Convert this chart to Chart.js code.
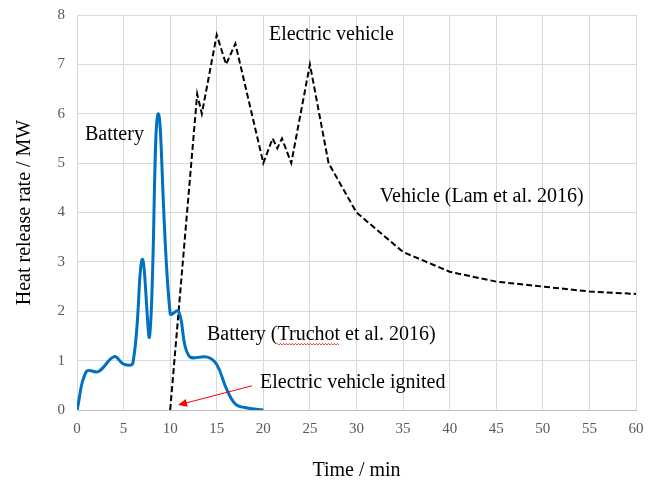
<!DOCTYPE html>
<html>
<head>
<meta charset="utf-8">
<script src="https://cdn.jsdelivr.net/npm/chart.js@4/dist/chart.umd.min.js"></script>
<style>
    html, body { margin: 0; padding: 0; background: #ffffff; }
    #wrap { width: 654px; height: 485px; position: relative; }
</style>
</head>
<body>
<div id="wrap"><canvas id="hrr-chart"></canvas></div>
<script>
// Battery (Truchot et al. 2016)
const batteryTime = [0, 1, 2.3, 4, 5, 6, 7, 7.8, 8.7, 10, 10.9, 12, 14, 15, 16, 17, 18, 20];
const batteryHrr = [0, 0.78, 0.78, 1.08, 0.93, 0.95, 3.05, 1.5, 6.0, 1.95, 2.0, 1.1, 1.07, 0.92, 0.45, 0.12, 0.05, 0];

// Vehicle (Lam et al. 2016)
const vehicleTime = [10, 12.9, 13.4, 15, 16, 17, 20, 21, 21.5, 22, 23, 25, 27, 30, 35, 40, 45, 50, 55, 60];
const vehicleHrr = [0, 6.4, 6.0, 7.6, 7.0, 7.42, 5.0, 5.5, 5.3, 5.5, 5.0, 7.0, 5.0, 4.0, 3.2, 2.8, 2.6, 2.5, 2.4, 2.35];

const xTicks = [0, 5, 10, 15, 20, 25, 30, 35, 40, 45, 50, 55, 60];
const yTicks = [0, 1, 2, 3, 4, 5, 6, 7, 8];

const toPoints = (xs, ys) => xs.map((x, i) => ({ x: x, y: ys[i] }));

const serif = '"Liberation Serif", "Times New Roman", serif';

// Text labels and the red arrow, placed in data units
const notesPlugin = {
    id: 'notes',
    afterDatasetsDraw(chart) {
        const { ctx, scales: { x, y } } = chart;
        ctx.save();
        ctx.font = '20px ' + serif;
        ctx.fillStyle = '#000000';
        ctx.textBaseline = 'middle';
        ctx.textAlign = 'left';

        const put = (text, dx, dy) => {
            ctx.fillText(text, x.getPixelForValue(dx), y.getPixelForValue(dy));
        };
        put('Battery', 0.86, 5.57);
        put('Electric vehicle', 20.6, 7.61);
        put('Vehicle (Lam et al. 2016)', 32.5, 4.31);
        put('Battery (Truchot et al. 2016)', 13.95, 1.52);
        put('Electric vehicle ignited', 19.64, 0.55);

        // red wavy underline under "Truchot"
        const bx = x.getPixelForValue(13.95) + ctx.measureText('Battery (').width;
        const bw = ctx.measureText('Truchot').width;
        const by = y.getPixelForValue(1.52) + 9;
        ctx.strokeStyle = '#e00000';
        ctx.lineWidth = 0.8;
        ctx.beginPath();
        for (let i = 0; i <= bw; i += 1.5) {
            const yy = by + ((Math.floor(i / 1.5) % 2) ? 1 : -0.5);
            if (i === 0) ctx.moveTo(bx + i, yy); else ctx.lineTo(bx + i, yy);
        }
        ctx.stroke();

        // arrow to ignition point
        const x0 = x.getPixelForValue(18.78), y0 = y.getPixelForValue(0.49);
        const x1 = x.getPixelForValue(10.84), y1 = y.getPixelForValue(0.10);
        const ang = Math.atan2(y1 - y0, x1 - x0);
        ctx.strokeStyle = '#ff0000';
        ctx.fillStyle = '#ff0000';
        ctx.lineWidth = 1;
        ctx.beginPath();
        ctx.moveTo(x0, y0);
        ctx.lineTo(x1 - 6 * Math.cos(ang), y1 - 6 * Math.sin(ang));
        ctx.stroke();
        ctx.beginPath();
        ctx.moveTo(x1, y1);
        ctx.lineTo(x1 - 9 * Math.cos(ang) + 4 * Math.sin(ang), y1 - 9 * Math.sin(ang) - 4 * Math.cos(ang));
        ctx.lineTo(x1 - 9 * Math.cos(ang) - 4 * Math.sin(ang), y1 - 9 * Math.sin(ang) + 4 * Math.cos(ang));
        ctx.closePath();
        ctx.fill();
        ctx.restore();
    }
};

new Chart(document.getElementById('hrr-chart'), {
    type: 'line',
    data: {
        datasets: [
            {
                label: 'Battery',
                data: toPoints(batteryTime, batteryHrr),
                borderColor: '#0070c0',
                borderWidth: 3,
                pointRadius: 0,
                tension: 0.4,
                fill: false
            },
            {
                label: 'Vehicle',
                data: toPoints(vehicleTime, vehicleHrr),
                borderColor: '#000000',
                borderWidth: 2,
                borderDash: [6, 3],
                pointRadius: 0,
                tension: 0,
                fill: false
            }
        ]
    },
    options: {
        responsive: true,
        maintainAspectRatio: false,
        animation: false,
        layout: { padding: { top: 15, right: 18, left: 0, bottom: 0 } },
        plugins: {
            legend: { display: false },
            tooltip: { enabled: false }
        },
        scales: {
            x: {
                type: 'linear',
                min: 0,
                max: 60,
                afterBuildTicks: (axis) => { axis.ticks = xTicks.map(v => ({ value: v })); },
                afterFit: (axis) => {
                    axis.height = 75;
                    axis.paddingLeft = 0;
                    axis.paddingRight = 0;
                },
                grid: { color: '#d9d9d9', lineWidth: 1, drawTicks: false },
                border: { color: '#bfbfbf', width: 1 },
                ticks: {
                    color: '#595959',
                    padding: 10,
                    maxRotation: 0,
                    font: { family: serif, size: 15 }
                },
                title: {
                    display: true,
                    text: 'Time / min',
                    color: '#000000',
                    padding: { top: 0, bottom: 2 },
                    font: { family: serif, size: 20 }
                }
            },
            y: {
                type: 'linear',
                min: 0,
                max: 8,
                afterBuildTicks: (axis) => { axis.ticks = yTicks.map(v => ({ value: v })); },
                afterFit: (axis) => {
                    axis.width = 77;
                    axis.paddingTop = 0;
                    axis.paddingBottom = 0;
                },
                grid: { color: '#d9d9d9', lineWidth: 1, drawTicks: false },
                border: { color: '#d9d9d9', width: 1 },
                ticks: {
                    color: '#595959',
                    padding: 12,
                    font: { family: serif, size: 15 }
                },
                title: {
                    display: true,
                    text: 'Heat release rate / MW',
                    color: '#000000',
                    padding: { top: 13, bottom: 0 },
                    font: { family: serif, size: 20 }
                }
            }
        }
    },
    plugins: [notesPlugin]
});
</script>
</body>
</html>
